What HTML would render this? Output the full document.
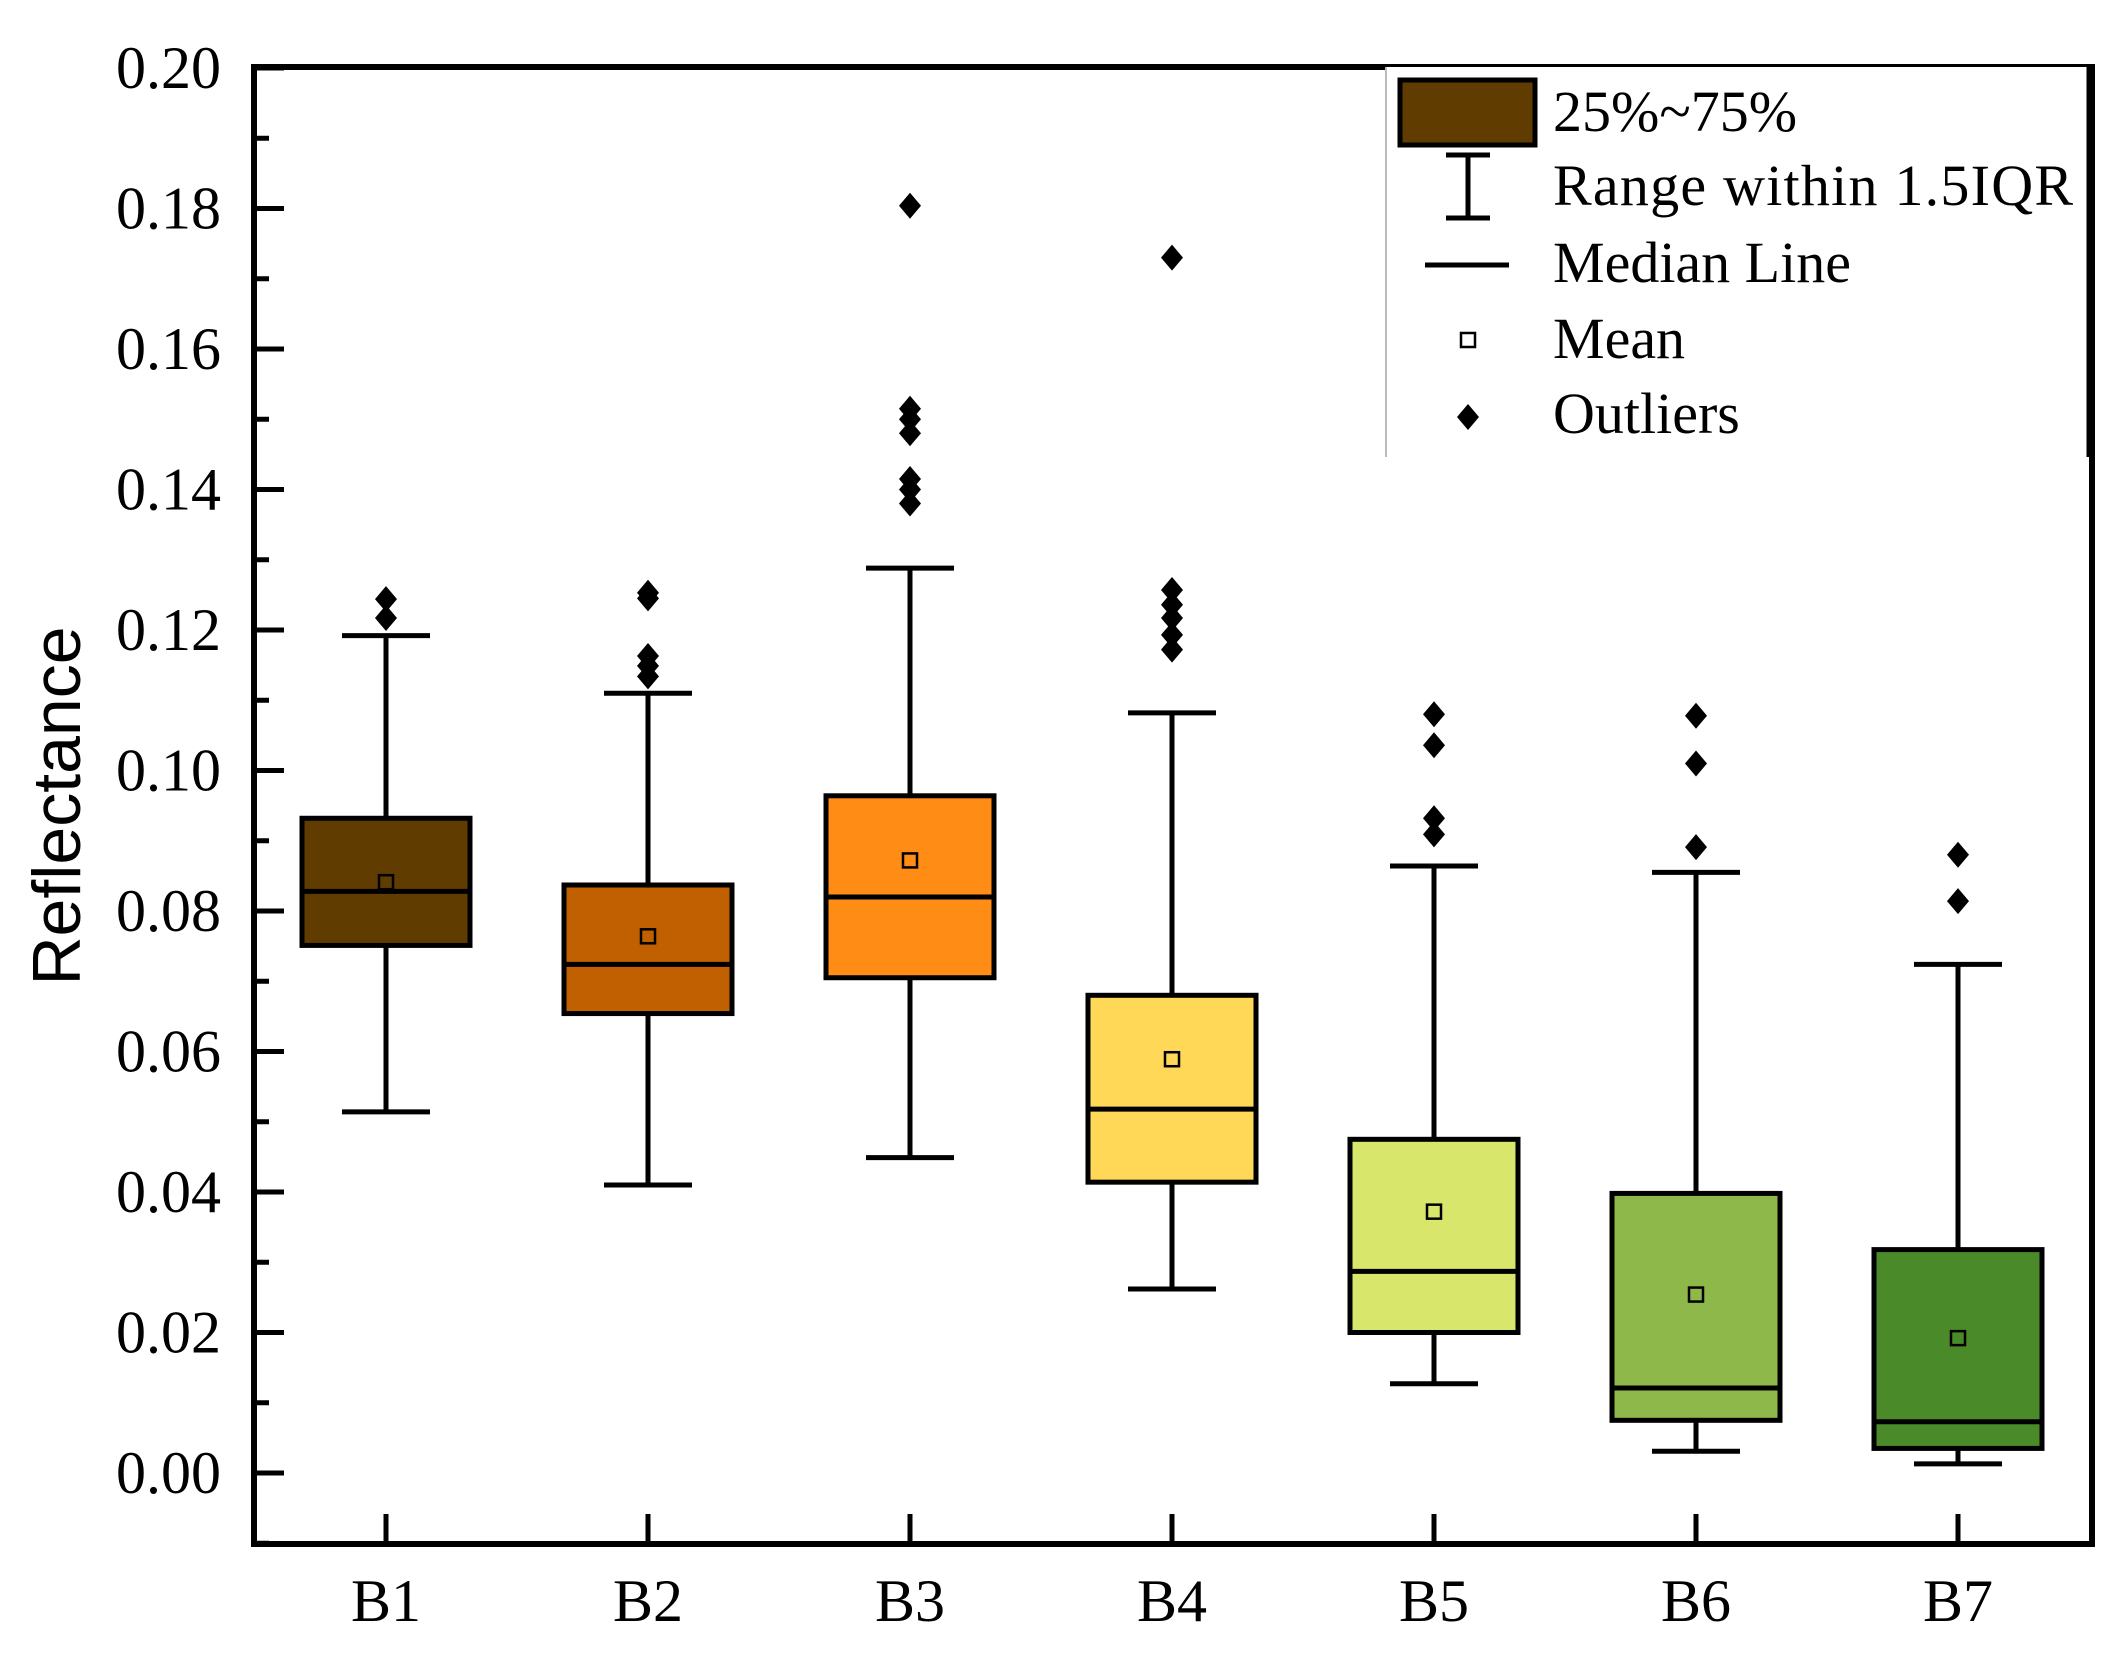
<!DOCTYPE html>
<html><head><meta charset="utf-8"><style>
html,body{margin:0;padding:0;background:#fff;}
svg{display:block;}
text{font-family:"Liberation Serif",serif;fill:#000;}
</style></head><body>
<svg id="chart" width="2125" height="1660" viewBox="0 0 2125 1660" xmlns="http://www.w3.org/2000/svg">
<g id="plot"></g>
</svg>
<script>
const categories = ["B1","B2","B3","B4","B5","B6","B7"];
const whiskerLow = [0.0514,0.0410,0.0449,0.0262,0.0127,0.0031,0.0013];
const q1Values = [0.0751,0.0654,0.0705,0.0414,0.0200,0.0075,0.0035];
const medianValues = [0.0828,0.0724,0.0820,0.0518,0.0287,0.0121,0.0073];
const q3Values = [0.0932,0.0837,0.0964,0.0680,0.0475,0.0398,0.0318];
const whiskerHigh = [0.1192,0.1110,0.1288,0.1082,0.0864,0.0855,0.0724];
const meanValues = [0.0841,0.0764,0.0872,0.0589,0.0372,0.0254,0.0192];
const outlierValues = [
  [0.1244,0.1217],
  [0.1253,0.1245,0.1163,0.1149,0.1134],
  [0.1804,0.1515,0.1500,0.1480,0.1415,0.1400,0.1380],
  [0.1730,0.1257,0.1236,0.1217,0.1193,0.1172],
  [0.1080,0.1036,0.0932,0.0909],
  [0.1078,0.1010,0.0891],
  [0.0880,0.0814]
];
const yTickValues = [0,0.02,0.04,0.06,0.08,0.10,0.12,0.14,0.16,0.18,0.20];
const yTickLabels = ["0.00","0.02","0.04","0.06","0.08","0.10","0.12","0.14","0.16","0.18","0.20"];
const boxColors = ["#603c00","#c06000","#ff8c14","#ffd858","#d8e66c","#8fb84a","#4a8a28"];

const NS="http://www.w3.org/2000/svg";
const g=document.getElementById('plot');
const L=254,R=2092,T=67,B=1544;
const y0=1473, yPerUnit=7025;
function yScale(v){return y0 - v*yPerUnit;}
function xScale(i){return 386 + i*262;}
function mk(tag,attrs,parent){const e=document.createElementNS(NS,tag);for(const k in attrs)e.setAttribute(k,attrs[k]);(parent||g).appendChild(e);return e;}

categories.forEach((c,i)=>{
  const cx=xScale(i);
  const grp=mk('g',{});
  
  
  const lw=5;
  mk('line',{x1:cx,x2:cx,y1:yScale(whiskerHigh[i]),y2:yScale(q3Values[i]),stroke:'#000','stroke-width':lw},grp);
  mk('line',{x1:cx,x2:cx,y1:yScale(q1Values[i]),y2:yScale(whiskerLow[i]),stroke:'#000','stroke-width':lw},grp);
  mk('line',{x1:cx-44,x2:cx+44,y1:yScale(whiskerHigh[i]),y2:yScale(whiskerHigh[i]),stroke:'#000','stroke-width':lw},grp);
  mk('line',{x1:cx-44,x2:cx+44,y1:yScale(whiskerLow[i]),y2:yScale(whiskerLow[i]),stroke:'#000','stroke-width':lw},grp);
  mk('rect',{x:cx-84,y:yScale(q3Values[i]),width:168,height:yScale(q1Values[i])-yScale(q3Values[i]),fill:boxColors[i],stroke:'#000','stroke-width':lw},grp);
  mk('line',{x1:cx-84,x2:cx+84,y1:yScale(medianValues[i]),y2:yScale(medianValues[i]),stroke:'#000','stroke-width':lw},grp);
  mk('rect',{x:cx-7,y:yScale(meanValues[i])-7,width:14,height:14,fill:'none',stroke:'#000','stroke-width':2.5},grp);
  outlierValues[i].forEach(v=>{
    const yy=yScale(v);
    const d=mk('path',{d:`M${cx},${yy-13} L${cx+11},${yy} L${cx},${yy+13} L${cx-11},${yy} Z`,fill:'#000'},grp);
    
    
  });
});

const frame=mk('rect',{x:L,y:T,width:R-L,height:B-T,fill:'none',stroke:'#000','stroke-width':6});



yTickValues.forEach((v,i)=>{
  const yy=yScale(v);
  mk('line',{x1:L,x2:L+30,y1:yy,y2:yy,stroke:'#000','stroke-width':5});
  if(i<yTickValues.length-1){const ym=yScale(v+0.01);mk('line',{x1:L,x2:L+15,y1:ym,y2:ym,stroke:'#000','stroke-width':5});}
  const t=mk('text',{x:221,y:yy+20,'text-anchor':'end','font-size':60});
  t.textContent=yTickLabels[i];
  
  
});
{const ym=yScale(-0.01);mk('line',{x1:L,x2:L+15,y1:ym,y2:ym,stroke:'#000','stroke-width':5});}

categories.forEach((c,i)=>{
  const cx=xScale(i);
  mk('line',{x1:cx,x2:cx,y1:B,y2:B-30,stroke:'#000','stroke-width':5});
  const t=mk('text',{x:cx,y:1621,'text-anchor':'middle','font-size':60});
  t.textContent=c;
  
  
});

const yt=mk('text',{x:0,y:0,'text-anchor':'middle','font-size':68,transform:'translate(80,806) rotate(-90)',style:'font-family:"Liberation Sans",sans-serif'});
yt.textContent='Reflectance';



const lg=mk('g',{});


mk('rect',{x:1386,y:67,width:702,height:390,fill:'#fff',stroke:'none'},lg);
mk('line',{x1:1386,x2:1386,y1:67,y2:457,stroke:'#bbb','stroke-width':2},lg);
mk('line',{x1:2088,x2:2088,y1:67,y2:457,stroke:'#000','stroke-width':3},lg);
mk('rect',{x:1400,y:80,width:135,height:65,fill:'#603c00',stroke:'#000','stroke-width':5},lg);
mk('line',{x1:1468,x2:1468,y1:155,y2:218,stroke:'#000','stroke-width':5},lg);
mk('line',{x1:1446,x2:1490,y1:155,y2:155,stroke:'#000','stroke-width':5},lg);
mk('line',{x1:1446,x2:1490,y1:218,y2:218,stroke:'#000','stroke-width':5},lg);
mk('line',{x1:1425,x2:1509,y1:265,y2:265,stroke:'#000','stroke-width':5},lg);
mk('rect',{x:1461,y:333,width:14,height:14,fill:'none',stroke:'#000','stroke-width':2.5},lg);
mk('path',{d:'M1468,404 L1479,417 L1468,430 L1457,417 Z',fill:'#000'},lg);
const legTexts=[["25%~75%",131],["Range within 1.5IQR",205],["Median Line",282],["Mean",358],["Outliers",433]];
legTexts.forEach(([s,yy])=>{
  const t=mk('text',{x:1553,y:yy,'font-size':58},lg);
  if(s.length>12)t.setAttribute('textLength','520');
  t.textContent=s;
  
  
});
</script>
</body></html>
